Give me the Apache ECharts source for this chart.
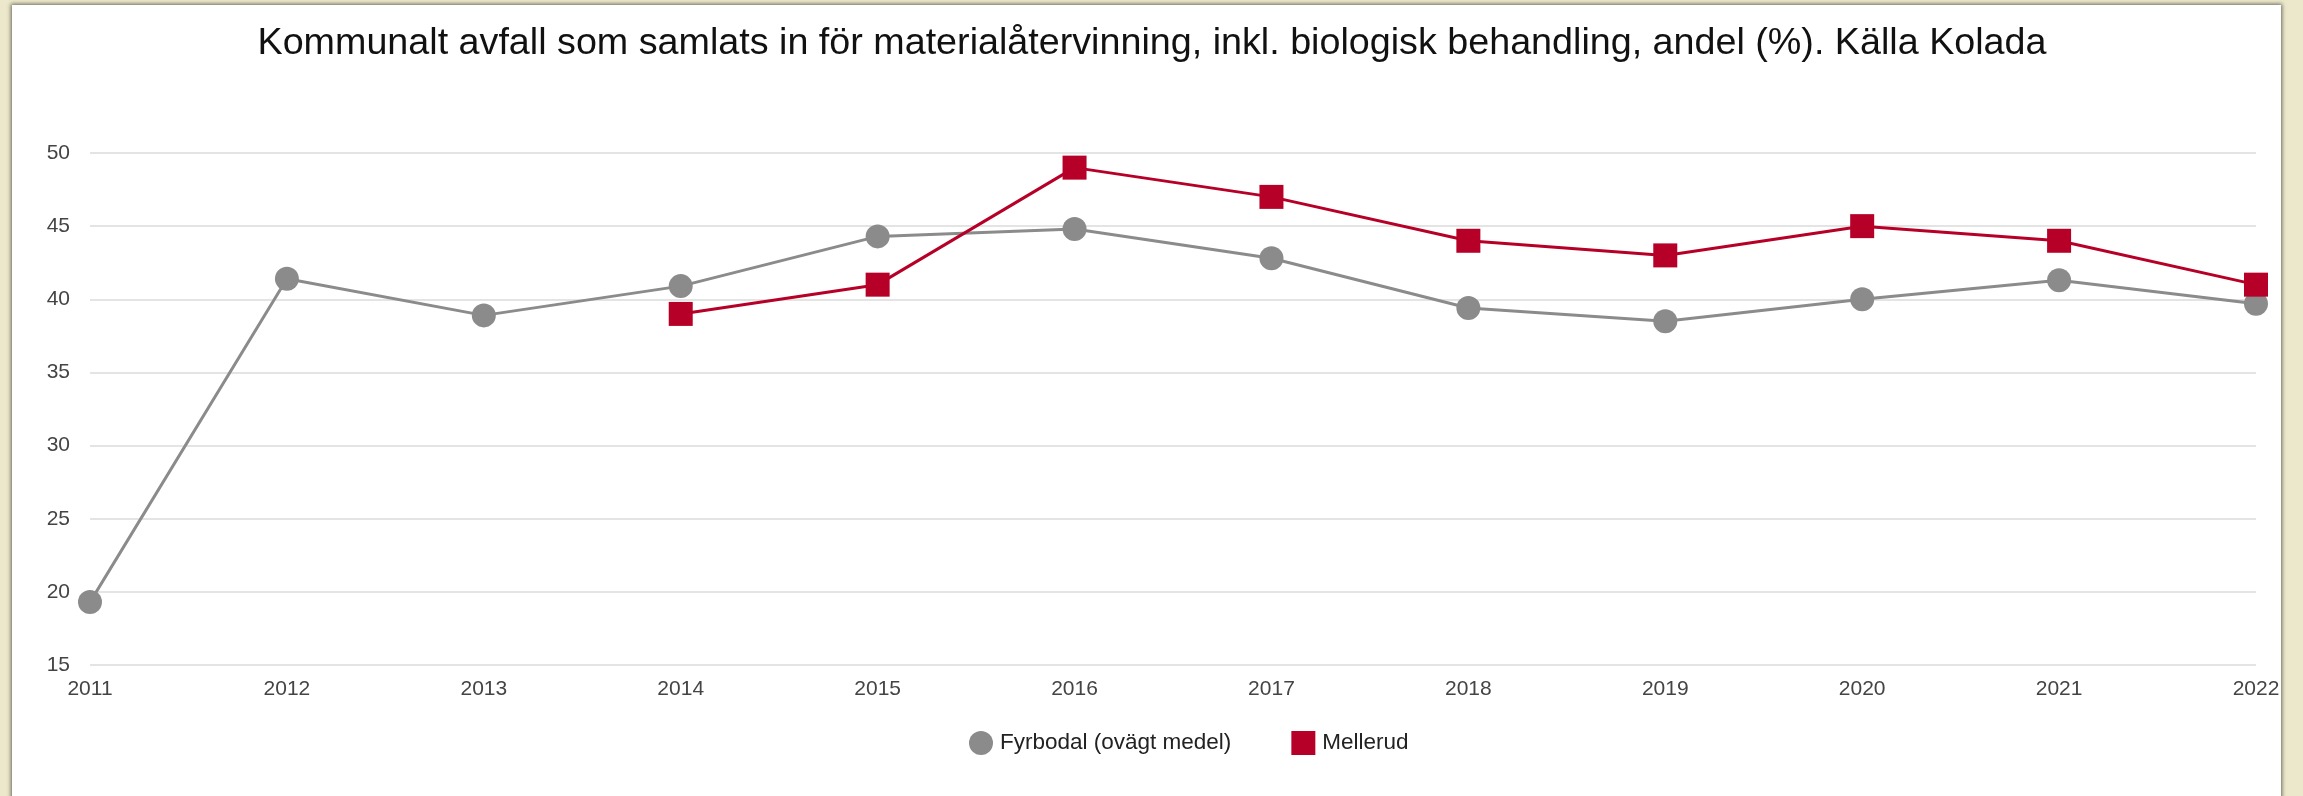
<!DOCTYPE html>
<html>
<head>
<meta charset="utf-8">
<script src="https://cdn.jsdelivr.net/npm/echarts@6/dist/echarts.min.js"></script>
<style>
  html, body { margin: 0; padding: 0; width: 2303px; height: 796px; overflow: hidden; background: #ece8cc; }
  #card { position: absolute; left: 12px; top: 5px; width: 2269px; height: 820px; background: #ffffff;
          box-shadow: 0 0 4px 1px rgba(60,60,50,0.75); }
  #chart { position: absolute; left: 0; top: 0; width: 2303px; height: 796px; }
</style>
</head>
<body>
<div id="card"></div>
<div id="chart"></div>
<script>
const titleText = 'Kommunalt avfall som samlats in för materialåtervinning, inkl. biologisk behandling, andel (%). Källa Kolada';
const years = ['2011','2012','2013','2014','2015','2016','2017','2018','2019','2020','2021','2022'];
const fyrbodalName = 'Fyrbodal (ovägt medel)';
const fyrbodal = [19.3, 41.4, 38.9, 40.9, 44.3, 44.8, 42.8, 39.4, 38.5, 40.0, 41.3, 39.7];
const mellerudName = 'Mellerud';
const mellerud = [null, null, null, 39, 41, 49, 47, 44, 43, 45, 44, 41];
const yTicks = { min: 15, max: 50, interval: 5 };

const FONT = '"Liberation Sans", Arial, sans-serif';
const GRAY = '#8b8b8b';
const RED = '#b70027';

const chart = echarts.init(document.getElementById('chart'), null, { renderer: 'canvas' });
chart.setOption({
  backgroundColor: 'transparent',
  animation: false,
  textStyle: { fontFamily: FONT },
  title: {
    text: titleText,
    left: 1147, top: 20, textAlign: 'center',
    textStyle: { fontFamily: FONT, fontSize: 37.7, fontWeight: 'normal', color: '#111' }
  },
  legend: {
    left: 964, top: 726,
    itemWidth: 24, itemHeight: 24, itemGap: 60,
    textStyle: { fontFamily: FONT, fontSize: 22.5, color: '#222', padding: [0, 0, 0, 2] },
    data: [
      { name: fyrbodalName, icon: 'circle', itemStyle: { color: GRAY } },
      { name: mellerudName, icon: 'rect', itemStyle: { color: RED } }
    ]
  },
  grid: { left: 90, right: 47, top: 153, bottom: 131, containLabel: false },
  xAxis: {
    type: 'category', data: years, boundaryGap: false,
    axisLine: { show: false }, axisTick: { show: false },
    axisLabel: { color: '#444', fontSize: 21, fontFamily: FONT, margin: 14, showMaxLabel: true, showMinLabel: true, interval: 0 }
  },
  yAxis: {
    type: 'value', min: yTicks.min, max: yTicks.max, interval: yTicks.interval,
    axisLine: { show: false }, axisTick: { show: false },
    axisLabel: { color: '#444', fontSize: 21, fontFamily: FONT, margin: 20 },
    splitLine: { lineStyle: { color: '#e4e4e4', width: 2 } }
  },
  series: [
    {
      name: fyrbodalName, type: 'line', data: fyrbodal,
      symbol: 'circle', symbolSize: 24,
      lineStyle: { color: GRAY, width: 3 },
      itemStyle: { color: GRAY }
    },
    {
      name: mellerudName, type: 'line', data: mellerud,
      symbol: 'rect', symbolSize: 24,
      lineStyle: { color: RED, width: 3 },
      itemStyle: { color: RED }
    }
  ]
});
</script>
</body>
</html>
